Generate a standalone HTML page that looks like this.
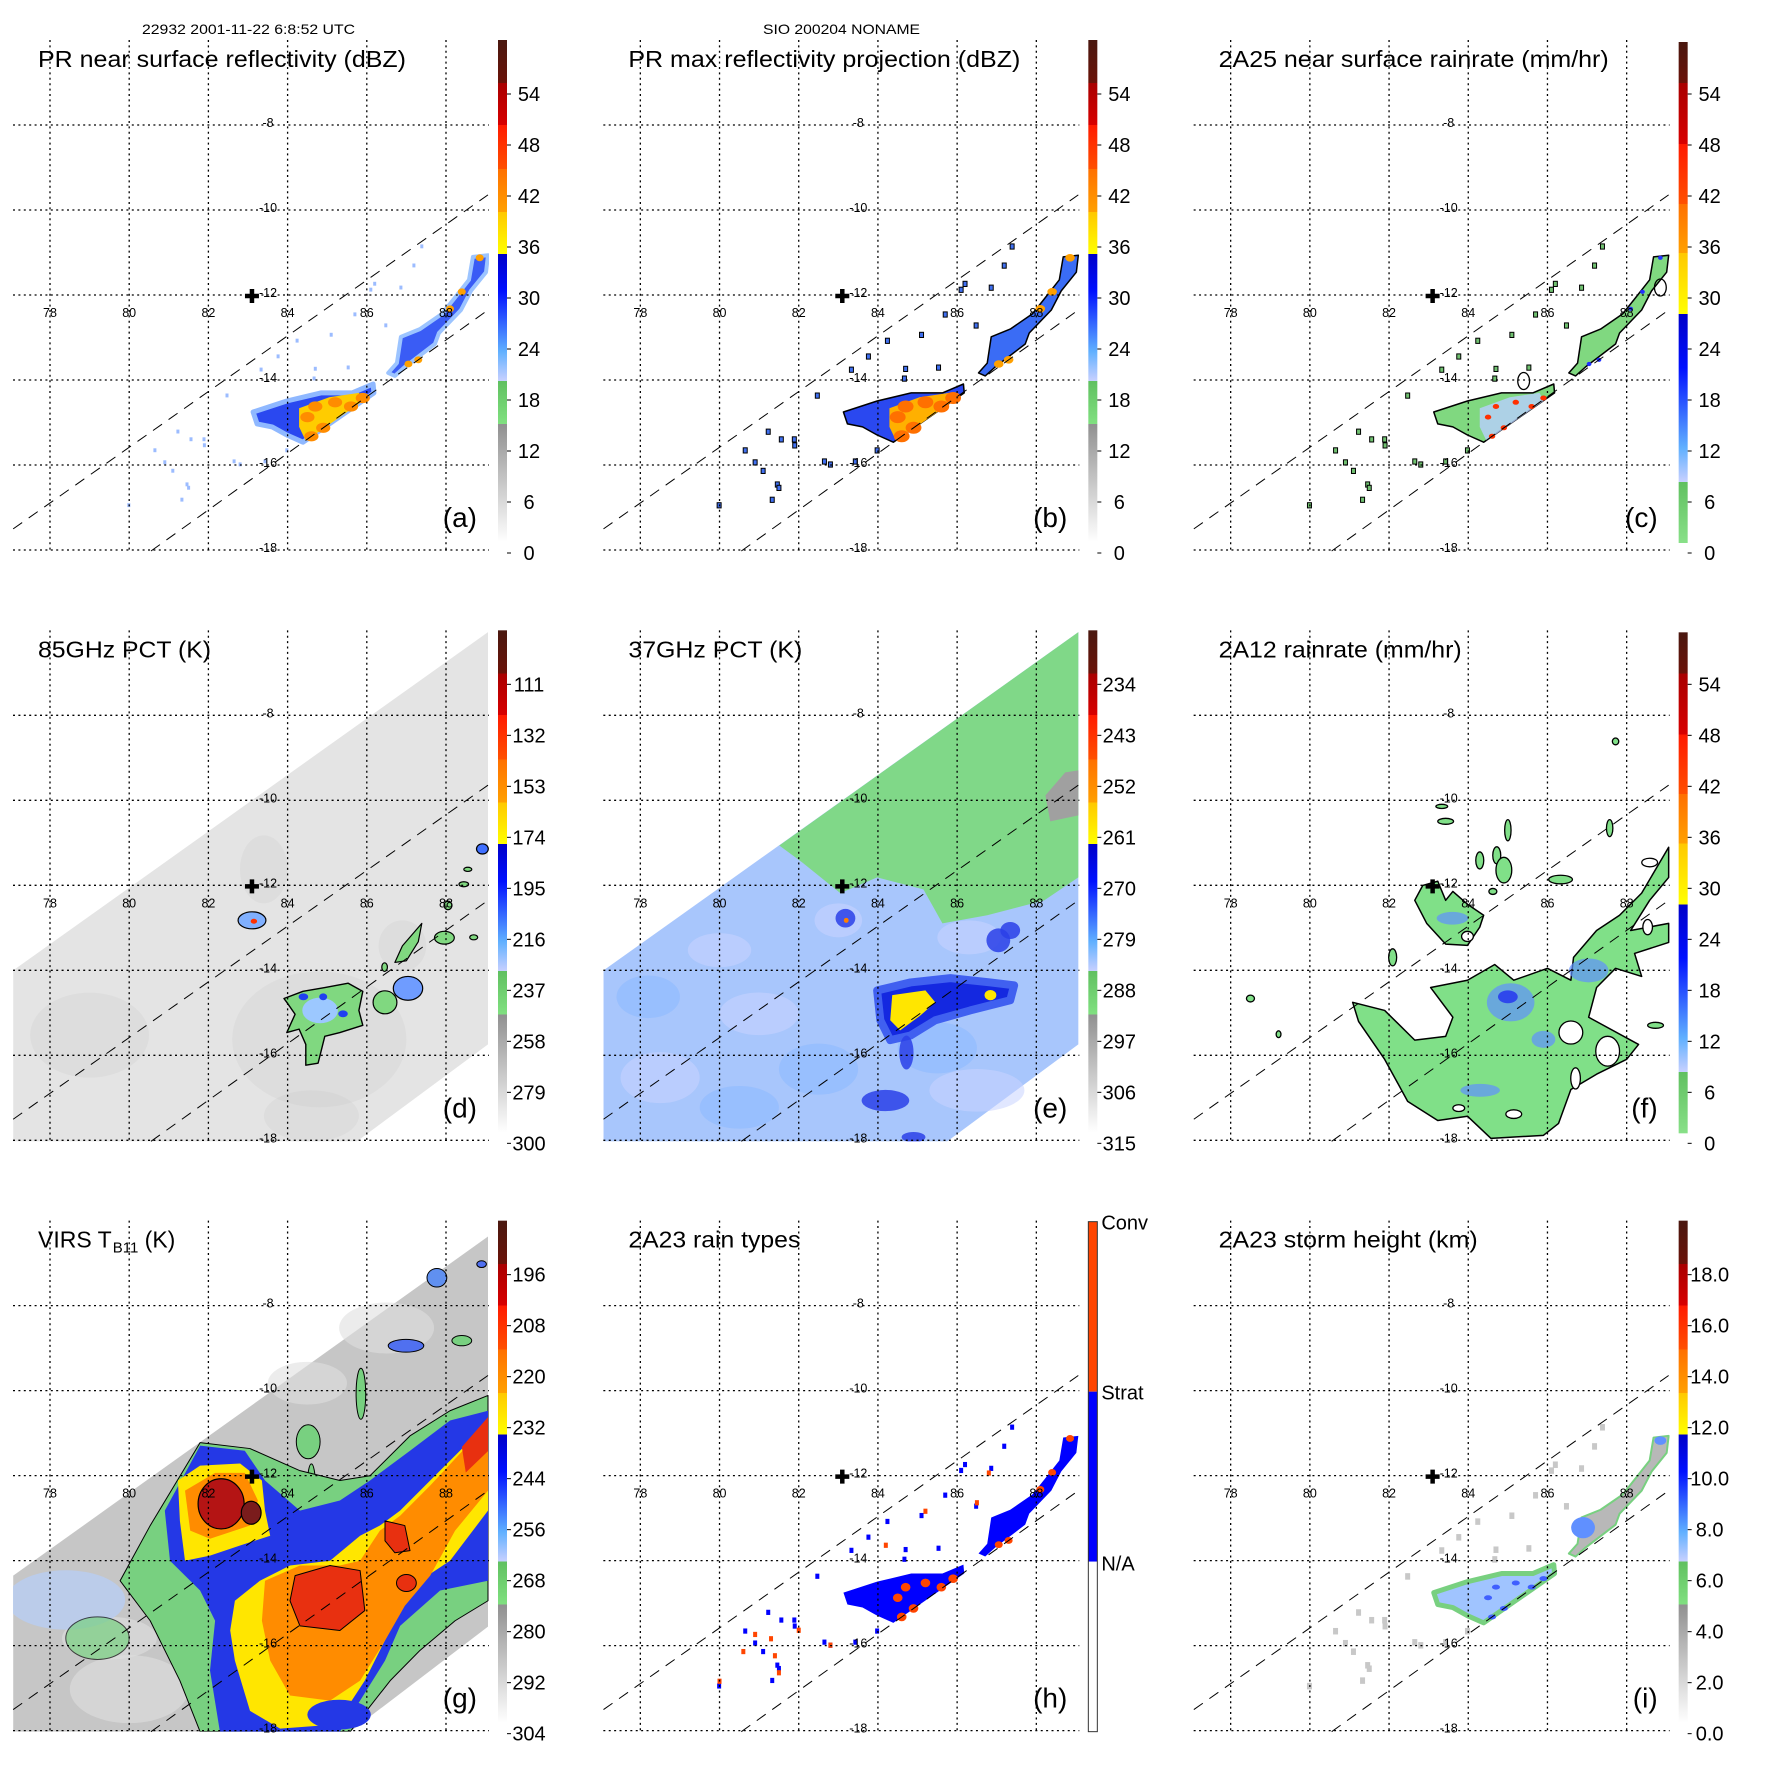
<!DOCTYPE html>
<html><head><meta charset="utf-8">
<style>html,body{margin:0;padding:0;background:#fff}svg{display:block}text{font-family:"Liberation Sans",Arial,sans-serif}</style>
</head><body>
<svg id="fig" xmlns="http://www.w3.org/2000/svg" width="1771" height="1771" viewBox="0 0 1771 1771">
<defs>
<clipPath id="plotclip"><rect x="13" y="40" width="476" height="511"/></clipPath>
<linearGradient id="cbStd" x1="0" y1="0" x2="0" y2="1">
<stop offset="0" stop-color="#4a1810"/><stop offset=".086" stop-color="#6a1208"/>
<stop offset=".086" stop-color="#a80000"/><stop offset=".169" stop-color="#d80000"/>
<stop offset=".169" stop-color="#ff1a00"/><stop offset=".257" stop-color="#ff5000"/>
<stop offset=".257" stop-color="#ff7000"/><stop offset=".343" stop-color="#ffa000"/>
<stop offset=".343" stop-color="#ffc800"/><stop offset=".426" stop-color="#ffff00"/>
<stop offset=".426" stop-color="#0000c8"/><stop offset=".5" stop-color="#0010ff"/><stop offset=".56" stop-color="#3060ff"/><stop offset=".62" stop-color="#60b0ff"/><stop offset=".679" stop-color="#c8d0ff"/>
<stop offset=".679" stop-color="#60c060"/><stop offset=".765" stop-color="#80e080"/>
<stop offset=".765" stop-color="#909090"/><stop offset="1" stop-color="#ffffff"/>
</linearGradient>
<linearGradient id="cbRain" x1="0" y1="0" x2="0" y2="1">
<stop offset="0" stop-color="#4a1810"/><stop offset=".082" stop-color="#6a1208"/>
<stop offset=".082" stop-color="#a80000"/><stop offset=".204" stop-color="#d80000"/>
<stop offset=".204" stop-color="#ff1a00"/><stop offset=".323" stop-color="#ff5000"/>
<stop offset=".323" stop-color="#ff7000"/><stop offset=".421" stop-color="#ffa000"/>
<stop offset=".421" stop-color="#ffc800"/><stop offset=".543" stop-color="#ffff00"/>
<stop offset=".543" stop-color="#0000c8"/><stop offset=".65" stop-color="#0010ff"/><stop offset=".73" stop-color="#3060ff"/><stop offset=".81" stop-color="#60b0ff"/><stop offset=".878" stop-color="#c8d0ff"/>
<stop offset=".878" stop-color="#60c060"/><stop offset="1" stop-color="#88e088"/>
</linearGradient>
</defs>
<rect x="0" y="0" width="1771" height="1771" fill="#ffffff"/>
<text x="142" y="34" font-size="14" textLength="213" lengthAdjust="spacingAndGlyphs">22932 2001-11-22 6:8:52 UTC</text>
<text x="763" y="34" font-size="14" textLength="157" lengthAdjust="spacingAndGlyphs">SIO 200204 NONAME</text>
</svg>
<script>
// ---- axis data ----
const lonTicks = [78, 80, 82, 84, 86, 88];
const latTicks = [-8, -10, -12, -14, -16, -18];
const centerCross = [83.1, -12];
const prSwathUpper = [[77.07, -17.48], [89.06, -9.62]];
const prSwathLower = [[80.55, -18], [89.06, -12.33]];
const tmiSwath = [[77.07,-13.98],[89.06,-6.02],[89.06,-15.72],[85.75,-18],[77.07,-18]];
const virsSwath = [[77.07,-14.33],[89.06,-6.35],[89.06,-15.53],[85.58,-18],[77.07,-18]];
// ---- colorbar labels ----
const cbLabelsDbz = ['54','48','42','36','30','24','18','12','6','0'];
const cbLabels85 = ['111','132','153','174','195','216','237','258','279','300'];
const cbLabels37 = ['234','243','252','261','270','279','288','297','306','315'];
const cbLabelsVirs = ['196','208','220','232','244','256','268','280','292','304'];
const cbLabelsHt = ['18.0','16.0','14.0','12.0','10.0','8.0','6.0','4.0','2.0','0.0'];
const cbLabelsType = ['Conv','Strat','N/A'];
// ---- PR features (lon, lat) ----
const prMain = [[83.13,-14.73],[83.98,-14.47],[84.84,-14.28],[85.63,-14.28],[86.16,-14.07],[86.18,-14.28],[84.39,-15.44],[83.98,-15.27],[83.61,-15.08],[83.23,-15.01]];
const prCore = [[84.29,-14.64],[85.05,-14.38],[85.8,-14.28],[85.9,-14.47],[84.46,-15.41],[84.29,-15.08]];
const prNE = [[86.54,-13.81],[86.76,-13.58],[86.86,-12.96],[87.34,-12.78],[87.9,-12.42],[88.2,-12.07],[88.58,-11.62],[88.68,-11.08],[89.06,-11.04],[89.01,-11.44],[88.63,-11.88],[88.38,-12.33],[87.82,-12.87],[87.72,-13.13],[86.96,-13.67],[86.71,-13.88]];
const prScatter = [[87.39,-10.82],[87.19,-11.27],[86.1,-11.84],[86.86,-11.79],[85.7,-12.42],[84.24,-13.04],[83.76,-13.41],[83.33,-13.72],[82.47,-14.33],[81.89,-15.36],[81.56,-15.36],[81.23,-15.18],[81.46,-16.42],[82.65,-15.88],[80.65,-15.62],[79.99,-16.91],[81.33,-16.78],[84.67,-13.93],[85.53,-13.67],[86.48,-12.68],[83.43,-15.88],[83.98,-15.62],[81.9,-15.5],[81.5,-16.5],[86.2,-11.7],[85.1,-12.9],[84.7,-13.7],[82.8,-15.95],[81.1,-16.1],[80.9,-15.9]];
const prHotSpots = [[84.7,-14.6],[84.5,-14.85],[85.2,-14.5],[85.6,-14.6],[84.9,-15.1],[85.9,-14.4],[84.6,-15.3]];
const neHotSpots = [[88.85,-11.1],[88.4,-11.9],[88.1,-12.3],[87.05,-13.6],[87.3,-13.5]];
const convScatter = [[80.9,-15.7],[81.3,-15.8],[81.4,-16.2],[81.5,-16.6],[80.6,-16.1],[80.0,-16.8],[82.8,-15.95],[85.2,-12.8],[86.8,-11.9],[86.5,-12.6],[84.2,-13.6],[82.0,-15.6]];
// ---- 85 GHz features ----
const d85Main = [[83.91,-14.64],[84.39,-14.47],[84.94,-14.38],[85.53,-14.28],[85.9,-14.47],[85.8,-14.92],[85.9,-15.27],[85.32,-15.44],[84.94,-15.53],[84.77,-16.16],[84.46,-16.21],[84.46,-15.72],[84.29,-15.36],[83.98,-15.44],[84.19,-15.01],[83.98,-14.73]];
const d85Elong = [[86.71,-13.79],[86.9,-13.4],[87.39,-12.87],[87.3,-13.3],[87.0,-13.75]];
const d85Cells = [[86.46,-14.73,.3,.27],[87.04,-14.4,.37,.28],[87.96,-13.21,.25,.15],[83.1,-12.8,.35,.2],[88.92,-11.12,.15,.12],[88.45,-11.95,.12,.06],[88.55,-11.6,.1,.05],[88.05,-12.45,.1,.1],[86.45,-13.9,.07,.1],[88.7,-13.2,.1,.06]];
const d85CellFill = ['#80d880','#6f9cff','#80d880','#80b0ff','#4070ff','#80d880','#80d880','#80d880','#80d880','#80d880'];
// ---- 37 GHz features ----
const e37Green = [[81.51,-11.04],[89.06,-6.02],[89.06,-11.79],[88.2,-12.33],[86.76,-12.68],[85.63,-12.87],[85.15,-12.07],[83.98,-11.79],[83.05,-12.16],[82.09,-11.44]];
const e37Gray = [[88.35,-10.47],[88.23,-9.86],[88.73,-9.32],[89.06,-9.27],[89.06,-10.33]];
const e37Core = [[83.98,-14.45],[84.82,-14.26],[85.83,-14.16],[86.84,-14.26],[87.44,-14.33],[87.34,-14.68],[86.33,-14.92],[85.45,-15.15],[84.82,-15.51],[84.31,-15.62],[84.06,-15.15]];
const e37Yellow = [[84.36,-14.56],[85.2,-14.45],[85.45,-14.73],[85.07,-15.04],[84.56,-15.39],[84.31,-15.15]];
const e37Cells = [[84.72,-15.91,.18,.4],[84.19,-17.04,.6,.25],[83.18,-12.75,.25,.22],[87.04,-13.27,.3,.28],[87.34,-13.04,.25,.2],[84.9,-17.9,.3,.12]];
// ---- 2A12 features ----
const f12Main = [[81.08,-14.73],[81.89,-14.92],[82.65,-15.62],[83.43,-15.53],[83.61,-15.08],[83.05,-14.38],[83.98,-14.21],[84.67,-13.84],[85.15,-14.21],[86.0,-13.93],[86.59,-14.21],[86.66,-13.67],[87.24,-13.04],[87.82,-12.68],[88.38,-12.16],[89.06,-11.08],[89.06,-11.79],[88.58,-12.33],[88.1,-13.04],[89.06,-12.87],[89.06,-13.32],[88.2,-13.58],[88.38,-14.12],[87.72,-13.93],[87.24,-14.38],[87.04,-15.08],[88.3,-15.72],[88.0,-16.07],[87.24,-16.42],[86.59,-16.78],[86.28,-17.58],[85.9,-17.86],[84.57,-17.93],[83.98,-17.41],[83.23,-17.51],[82.47,-17.06],[81.89,-16.07],[81.23,-15.18]];
const f12Cross = [[82.65,-12.33],[82.85,-11.98],[83.23,-11.88],[83.43,-12.33],[83.61,-12.12],[83.98,-12.42],[84.39,-12.68],[84.29,-12.96],[83.98,-13.39],[83.43,-13.36],[82.95,-12.87]];
const f12Heavy = [[85.07,-14.73,.6,.45],[87.04,-13.98,.5,.28],[83.6,-12.75,.4,.15],[85.9,-15.6,.3,.2],[84.3,-16.8,.5,.15]];
const f12Holes = [[86.59,-15.44,.3,.27],[87.52,-15.88,.3,.35],[86.71,-16.52,.12,.25],[85.15,-17.36,.2,.1],[83.76,-17.22,.15,.08],[83.98,-13.18,.15,.12],[88.58,-11.44,.2,.1],[88.53,-12.96,.12,.18]];
const f12Small = [[87.72,-8.59,.08,.08],[83.33,-10.12,.15,.05],[83.43,-10.47,.2,.07],[85.0,-10.68,.08,.25],[84.29,-11.39,.1,.2],[84.72,-11.27,.1,.2],[84.9,-11.62,.2,.3],[84.62,-12.12,.1,.07],[86.33,-11.84,.3,.1],[87.57,-10.63,.08,.2],[82.09,-13.67,.1,.2],[78.5,-14.64,.1,.08],[79.21,-15.48,.06,.08],[88.73,-15.27,.2,.07]];
// ---- VIRS features ----
const gGreen = [[80.53,-13.15],[81.79,-11.2],[83.05,-11.34],[84.31,-11.86],[85.32,-12.09],[86.08,-11.98],[87.09,-11.04],[88.1,-10.45],[89.06,-10.09],[89.06,-14.92],[88.23,-15.39],[87.34,-16.09],[86.59,-16.8],[85.58,-18],[81.79,-18],[81.28,-16.8],[80.53,-15.39],[79.77,-14.45]];
const gBlue = [[80.9,-12.8],[81.79,-11.27],[82.92,-11.39],[83.43,-12.09],[84.31,-12.8],[85.32,-12.56],[86.08,-12.09],[87.09,-11.39],[88.1,-10.68],[89.06,-10.45],[89.06,-14.45],[87.85,-14.68],[86.84,-15.51],[86.46,-16.33],[85.83,-17.27],[85.32,-18],[82.29,-18],[82.04,-16.56],[82.17,-15.39],[81.79,-14.68],[81.03,-13.98]];
const gYellowNW = [[81.23,-12.09],[81.79,-11.74],[82.8,-11.69],[83.35,-12.09],[83.43,-12.8],[83.56,-13.39],[82.8,-13.62],[82.04,-13.86],[81.41,-13.98],[81.28,-13.04]];
const gYellow = [[82.67,-14.92],[83.3,-14.45],[84.06,-14.09],[85.07,-13.98],[85.83,-13.39],[86.33,-13.15],[86.84,-12.8],[87.6,-12.09],[88.61,-11.15],[89.06,-10.8],[89.06,-12.8],[88.1,-13.98],[87.34,-14.45],[86.71,-15.39],[86.33,-16.09],[85.95,-16.8],[85.45,-17.51],[84.82,-17.86],[83.81,-17.93],[83.05,-17.51],[82.67,-16.33],[82.55,-15.62]];
const gOrangeNW = [[81.41,-12.33],[82.17,-11.91],[82.92,-11.91],[83.25,-12.56],[83.05,-13.15],[82.04,-13.46],[81.54,-13.27]];
const gOrange = [[83.43,-14.45],[84.31,-14.09],[85.32,-14.09],[85.83,-13.98],[86.33,-13.27],[86.84,-12.92],[87.6,-12.21],[88.61,-11.2],[89.06,-10.92],[89.06,-12.33],[88.23,-13.27],[87.6,-14.33],[86.96,-15.04],[86.46,-15.86],[85.83,-16.8],[85.07,-17.27],[84.06,-17.15],[83.56,-16.33],[83.35,-15.39]];
const gRed = [[84.19,-14.33],[85.07,-14.09],[85.83,-14.21],[85.95,-15.15],[85.32,-15.62],[84.31,-15.51],[84.06,-14.92]];
const gRed2 = [[86.46,-13.04],[86.96,-13.15],[87.09,-13.74],[86.71,-13.79],[86.46,-13.51]];
const gRedNE = [[88.4,-11.3],[89.06,-10.6],[89.06,-11.4],[88.5,-11.9]];
const gColdNW = [82.32, -12.64, .58, .59];
const gColdSmall = [83.08, -12.85, .25, .27];
const gOuterCells = [[86.99,-8.92,.45,.15],[85.85,-10.05,.12,.6],[87.77,-7.32,.25,.22],[84.52,-11.18,.3,.4],[84.6,-12.2,.1,.5],[88.4,-8.8,.25,.12],[88.9,-7.0,.12,.08]];
const gOuterFill = ['#5070f0','#78d080','#6090f0','#78d080','#78d080','#78d080','#5070f0'];
</script>
<script>
const NS = 'http://www.w3.org/2000/svg';
const svg = document.getElementById('fig');
const S = 590.33;
const X = lon => 50 + (lon - 78) * 39.6;
const Y = lat => 126 + (-8 - lat) * 42.5;
function mk(tag, attrs, parent) {
  const e = document.createElementNS(NS, tag);
  for (const k in attrs) e.setAttribute(k, attrs[k]);
  parent.appendChild(e);
  return e;
}
function pts(arr) { return arr.map(p => X(p[0]).toFixed(1) + ',' + Y(p[1]).toFixed(1)).join(' '); }
function poly(parent, arr, fill, name, stroke, sw, op) {
  const e = mk('polygon', {points: pts(arr), fill: fill, stroke: stroke || 'none', 'stroke-width': sw || 0, 'stroke-linejoin': 'round', opacity: op || 1}, parent);
  
  
  return e;
}
function ell(parent, d, fill, name, stroke, sw, op) {
  const e = mk('ellipse', {cx: X(d[0]).toFixed(1), cy: Y(d[1]).toFixed(1), rx: (d[2] * 39.6).toFixed(1), ry: (d[3] * 42.5).toFixed(1), fill: fill, stroke: stroke || 'none', 'stroke-width': sw || 0, opacity: op || 1}, parent);
  
  
  return e;
}
function dots(parent, arr, fill, sz, name, stroke) {
  arr.forEach(p => {
    const e = mk('rect', {x: (X(p[0]) - sz / 2).toFixed(1), y: (Y(p[1]) - sz / 2).toFixed(1), width: sz, height: sz * 1.3, fill: fill, stroke: stroke || 'none', 'stroke-width': stroke ? 1 : 0}, parent);
    
    
  });
}
function txt(parent, x, y, s, size, anchor, name, extra) {
  const e = mk('text', Object.assign({x: x, y: y, 'font-size': size, 'text-anchor': anchor || 'start', fill: '#000'}, extra || {}), parent);
  e.textContent = s;
  
  
  return e;
}

function panel(idx, letter, title, titleWidth, cbType, labels, draw) {
  const col = idx % 3, row = Math.floor(idx / 3);
  const g = mk('g', {transform: 'translate(' + (col * S).toFixed(2) + ',' + (row * S).toFixed(2) + ')'}, svg);
  
  
  const dg = mk('g', {'clip-path': 'url(#plotclip)'}, g);
  
  
  draw(dg);
  lonTicks.forEach(lon => {
    const l = mk('line', {x1: X(lon), x2: X(lon), y1: 40, y2: 552, stroke: '#000', 'stroke-width': 1.3, 'stroke-dasharray': '2 3.4'}, g);
    
    
    txt(g, X(lon), 317, String(lon), 12.5, 'middle', 'lon-label-' + lon);
  });
  latTicks.forEach(lat => {
    const l = mk('line', {x1: 13, x2: 489, y1: Y(lat) - 1, y2: Y(lat) - 1, stroke: '#000', 'stroke-width': 1.3, 'stroke-dasharray': '2 3.4'}, g);
    
    
    txt(g, 268, Y(lat) + 1, String(lat), 12.5, 'middle', 'lat-label-' + lat);
  });
  [prSwathUpper, prSwathLower].forEach((sw, i) => {
    const l = mk('line', {x1: X(sw[0][0]), y1: Y(sw[0][1]), x2: X(sw[1][0]), y2: Y(sw[1][1]), stroke: '#000', 'stroke-width': 1, 'stroke-dasharray': '11 8'}, g);
    
    
  });
  const cx = X(centerCross[0]), cy = Y(centerCross[1]);
  const cr = mk('path', {d: 'M' + (cx - 7) + ' ' + cy + 'H' + (cx + 7) + 'M' + cx + ' ' + (cy - 7) + 'V' + (cy + 7), stroke: '#000', 'stroke-width': 4.5}, g);
  
  
  if (Array.isArray(title)) {
    const t = mk('text', {x: 38, y: 67, 'font-size': 23, fill: '#000'}, g);
    
    
    const a = mk('tspan', {}, t); a.textContent = title[0];
    const b = mk('tspan', {'font-size': 15, dy: 5, dx: 1}, t); b.textContent = title[1];
    const c = mk('tspan', {dy: -5}, t); c.textContent = title[2];
  } else {
    txt(g, 38, 67, title, 23, 'start', 'panel-title', {textLength: titleWidth, lengthAdjust: 'spacingAndGlyphs'});
  }
  txt(g, 477, 527, '(' + letter + ')', 28, 'end', 'panel-letter');
  if (cbType === 'type') {
    const segs = [[41, 211, '#ff4500'], [211, 381, '#0000ff'], [381, 551, '#ffffff']];
    segs.forEach((s, i) => {
      const r = mk('rect', {x: 498, y: s[0], width: 9, height: s[1] - s[0], fill: s[2]}, g);
      
      
    });
    const o = mk('rect', {x: 498, y: 41, width: 9, height: 510, fill: 'none', stroke: '#333', 'stroke-width': 1}, g);
    
    
    [49, 219, 390].forEach((y, i) => txt(g, 511, y, labels[i], 20, 'start', 'colorbar-label'));
  } else {
    const r = mk('rect', {x: 498, y: cbType === 'rain' ? 42 : 40, width: 9, height: cbType === 'rain' ? 501 : 502, fill: cbType === 'rain' ? 'url(#cbRain)' : 'url(#cbStd)'}, g);
    
    
    labels.forEach((lb, i) => {
      const y = 94 + 51 * i;
      const tk = mk('line', {x1: 507, x2: 511, y1: y, y2: y, stroke: '#000', 'stroke-width': 1}, g);
      
      
      txt(g, 529, y + 7, lb, 20, 'middle', 'colorbar-label');
    });
  }
}

panel(0, 'a', 'PR near surface reflectivity (dBZ)', 368, 'std', cbLabelsDbz, g => {
  dots(g, prScatter, '#9cbcff', 3, 'pr-echo-cell');
  poly(g, prMain, '#2a48f0', 'pr-main-rainband', '#8fb8ff', 5);
  poly(g, prCore, '#ffcc00', 'pr-convective-core');
  prHotSpots.forEach(p => ell(g, [p[0], p[1], .18, .12], '#ff8c00', 'pr-hot-spot'));
  poly(g, prNE, '#3a5cf5', 'pr-ne-rainband', '#9cc4ff', 4);
  neHotSpots.forEach(p => ell(g, [p[0], p[1], .1, .08], '#ffa000', 'pr-ne-hot-spot'));
});
panel(1, 'b', 'PR max reflectivity projection (dBZ)', 392, 'std', cbLabelsDbz, g => {
  dots(g, prScatter, '#4070f0', 4, 'pr-echo-cell', '#000');
  poly(g, prMain, '#2a48f0', 'pr-main-rainband', '#000', 1.5);
  poly(g, prCore, '#ffb000', 'pr-convective-core');
  prHotSpots.forEach(p => ell(g, [p[0], p[1], .2, .14], '#ff7000', 'pr-hot-spot'));
  poly(g, prNE, '#3a6cf5', 'pr-ne-rainband', '#000', 1.5);
  neHotSpots.forEach(p => ell(g, [p[0], p[1], .12, .09], '#ffa000', 'pr-ne-hot-spot'));
});
panel(2, 'c', '2A25 near surface rainrate (mm/hr)', 390, 'rain', cbLabelsDbz, g => {
  dots(g, prScatter, '#70c070', 4, 'pr-rain-cell', '#000');
  poly(g, prMain, '#80d880', 'pr-main-rainband', '#000', 1.5);
  poly(g, prCore, '#b8d0ff', 'pr-moderate-rain', null, 0, .8);
  prHotSpots.forEach(p => ell(g, [p[0], p[1], .08, .06], '#ff3000', 'pr-heavy-rain-spot'));
  poly(g, prNE, '#80d880', 'pr-ne-rainband', '#000', 1.5);
  neHotSpots.forEach(p => ell(g, [p[0], p[1], .06, .05], '#2030ff', 'pr-ne-rain-spot'));
  ell(g, [85.4, -14.0, .15, .2], 'none', 'rain-contour-ring', '#000', 1.3);
  ell(g, [88.85, -11.8, .15, .2], 'none', 'rain-contour-ring', '#000', 1.3);
});
panel(3, 'd', '85GHz PCT (K)', 173, 'std', cbLabels85, g => {
  poly(g, tmiSwath, '#e4e4e4', 'tmi-swath');
  [[84.8,-15.6,2.2,1.6],[84.6,-17.4,1.2,.6],[83.4,-11.6,.6,.8],[86.9,-13.4,.6,.6],[79,-15.5,1.5,1]].forEach(d => ell(g, d, '#c4c4c4', 'cold-shading', null, 0, .2));
  poly(g, d85Main, '#80d880', 'ice-scattering-main', '#000', 1.4);
  ell(g, [84.82, -14.92, .45, .3], '#9cc8ff', 'ice-scattering-core');
  [[84.4,-14.6,.12,.08],[85.4,-15.0,.12,.08],[84.9,-14.6,.1,.08]].forEach(d => ell(g, d, '#2040f0', 'ice-scattering-strong'));
  poly(g, d85Elong, '#80d880', 'ice-scattering-cell', '#000', 1.2);
  d85Cells.forEach((d, i) => ell(g, d, d85CellFill[i], 'ice-scattering-cell', '#000', 1.2));
  ell(g, [83.15, -12.82, .08, .06], '#ff3000', 'ice-scattering-peak');
});
panel(4, 'e', '37GHz PCT (K)', 174, 'std', cbLabels37, g => {
  poly(g, tmiSwath, '#a8c6fc', 'tmi-swath');
  [[78.5,-16.5,1,.6],[81,-15,1,.5],[80,-13.5,.8,.4],[86.5,-16.8,1.2,.5],[83.0,-12.8,.6,.4],[86.3,-13.2,.8,.4]].forEach(d => ell(g, d, '#c8d4ff', 'warm-patch', null, 0, .55));
  [[78.2,-14.6,.8,.5],[82.5,-16.3,1,.6],[85.5,-15.8,1,.6],[80.5,-17.2,1,.5]].forEach(d => ell(g, d, '#88b8ff', 'cool-patch', null, 0, .5));
  poly(g, e37Green, '#80d888', 'warm-ocean-region');
  poly(g, e37Gray, '#a0a0a0', 'warm-region');
  poly(g, e37Core, '#1428e0', 'scattering-core', '#4060f0', 8);
  poly(g, e37Yellow, '#ffe600', 'strong-scattering');
  ell(g, [86.84, -14.56, .15, .12], '#ffe600', 'strong-scattering');
  e37Cells.forEach(d => ell(g, d, '#2a40e8', 'scattering-cell', null, 0, .85));
  ell(g, [83.2, -12.8, .06, .06], '#ff8000', 'scattering-peak');
});
panel(5, 'f', '2A12 rainrate (mm/hr)', 243, 'rain', cbLabelsDbz, g => {
  poly(g, f12Main, '#80e088', 'tmi-rain-main', '#000', 1.5);
  poly(g, f12Cross, '#80e088', 'tmi-rain-center', '#000', 1.5);
  f12Heavy.forEach(d => ell(g, d, '#6090ff', 'tmi-heavy-rain', null, 0, .7));
  ell(g, [85.0, -14.6, .25, .15], '#2030f0', 'tmi-heaviest-rain', null, 0, .8);
  f12Holes.forEach(d => ell(g, d, '#ffffff', 'rain-free-hole', '#000', 1.3));
  f12Small.forEach(d => ell(g, d, '#80e088', 'tmi-rain-cell', '#000', 1.3));
});
panel(6, 'g', ['VIRS T', 'B11', ' (K)'], 0, 'std', cbLabelsVirs, g => {
  poly(g, virsSwath, '#c6c6c6', 'virs-swath');
  [[80,-17,1.5,.8],[86.5,-8.5,1.2,.6],[84.5,-9.8,1,.5],[79.5,-15.8,1.2,.5]].forEach(d => ell(g, d, '#e0e0e0', 'clear-patch', null, 0, .6));
  ell(g, [78.4, -14.9, 1.5, .7], '#b8ccf0', 'thin-cloud', null, 0, .85);
  ell(g, [79.2, -15.8, .8, .5], '#78d080', 'low-cloud', '#000', 1, .7);
  gOuterCells.forEach((d, i) => ell(g, d, gOuterFill[i], 'cloud-cell', '#000', 1));
  poly(g, gGreen, '#78d080', 'cloud-shield-outer', '#000', 1);
  poly(g, gBlue, '#2438e6', 'cloud-shield-cold');
  poly(g, gYellowNW, '#ffe600', 'cloud-top-nw');
  poly(g, gYellow, '#ffe600', 'cloud-top-main');
  poly(g, gOrangeNW, '#ff8c00', 'cloud-top-nw-cold');
  poly(g, gOrange, '#ff8c00', 'cloud-top-main-cold');
  ell(g, [85.3, -17.6, .8, .35], '#2438e6', 'cloud-edge-south');
  poly(g, gRed, '#e83010', 'cloud-top-coldest', '#000', 1);
  poly(g, gRed2, '#e83010', 'cloud-top-coldest', '#000', 1);
  poly(g, gRedNE, '#e83010', 'cloud-top-coldest');
  ell(g, [87.0, -14.5, .25, .2], '#e83010', 'cloud-top-coldest', '#000', 1);
  ell(g, gColdNW, '#b41414', 'overshooting-top', '#000', 1.2);
  ell(g, gColdSmall, '#7a1c1c', 'overshooting-top', '#000', 1.2);
});
panel(7, 'h', '2A23 rain types', 172, 'type', cbLabelsType, g => {
  dots(g, prScatter, '#0000ff', 4, 'stratiform-cell');
  dots(g, convScatter, '#ff4500', 4, 'convective-cell');
  poly(g, prMain, '#0000ff', 'stratiform-main');
  prHotSpots.forEach(p => ell(g, [p[0], p[1], .12, .1], '#ff4500', 'convective-spot'));
  poly(g, prNE, '#0000ff', 'stratiform-ne');
  neHotSpots.forEach(p => ell(g, [p[0], p[1], .1, .08], '#ff4500', 'convective-ne-spot'));
});
panel(8, 'i', '2A23 storm height (km)', 259, 'std', cbLabelsHt, g => {
  dots(g, prScatter, '#c8c8c8', 5, 'storm-height-cell');
  poly(g, prMain, '#a0c4ff', 'storm-height-main', '#78d080', 5);
  prHotSpots.forEach(p => ell(g, [p[0], p[1], .1, .06], '#4060ff', 'storm-height-tall'));
  poly(g, prNE, '#b8b8b8', 'storm-height-ne', '#78d080', 2);
  ell(g, [86.9, -13.2, .3, .25], '#6090ff', 'storm-height-ne-tall');
  ell(g, [88.85, -11.15, .15, .1], '#6090ff', 'storm-height-ne-tall');
});
</script>
</body></html>
